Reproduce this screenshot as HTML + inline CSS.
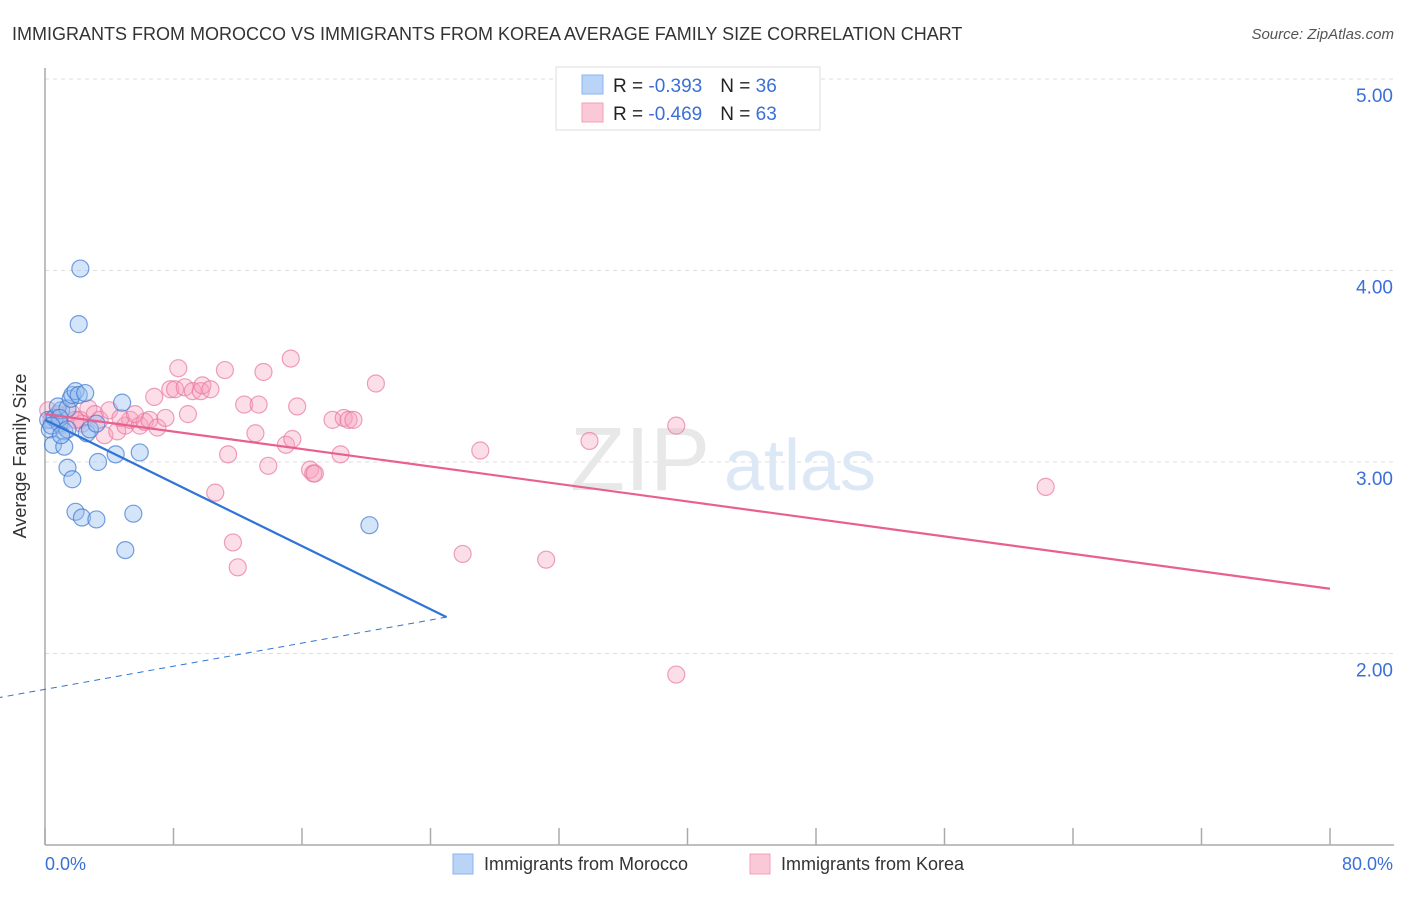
<!DOCTYPE html>
<html><head><meta charset="utf-8">
<style>
body{margin:0;background:#fff;font-family:"Liberation Sans",sans-serif;}
svg text{font-family:"Liberation Sans",sans-serif;}
</style></head>
<body>
<svg id="chart" width="1406" height="892" xmlns="http://www.w3.org/2000/svg">
<text x="12" y="40" font-size="18" fill="#333">IMMIGRANTS FROM MOROCCO VS IMMIGRANTS FROM KOREA AVERAGE FAMILY SIZE CORRELATION CHART</text>
<text x="1394" y="39" font-size="15" fill="#555" font-style="italic" text-anchor="end">Source: ZipAtlas.com</text>
<g id="grid"></g>
<text x="640" y="490" font-size="90" fill="#e8e8e8" font-family="Liberation Serif" text-anchor="middle">ZIP</text>
<text x="800" y="490" font-size="72" fill="#dce8f5" text-anchor="middle">atlas</text>
<line x1="45" y1="68" x2="45" y2="845" stroke="#aaa" stroke-width="1.5"/>
<line x1="45" y1="845" x2="1394" y2="845" stroke="#aaa" stroke-width="1.5"/>
<g id="ticks"></g>
<g id="points"></g>
<g id="trends"></g>
<text x="26" y="456" font-size="18" fill="#333" text-anchor="middle" transform="rotate(-90 26 456)">Average Family Size</text>
<text x="45" y="870" font-size="18" fill="#3a6fd8">0.0%</text>
<text x="1393" y="870" font-size="18" fill="#3a6fd8" text-anchor="end">80.0%</text>
<g>
<rect x="556" y="67" width="264" height="63" fill="#fff" stroke="#ddd"/>
<rect x="582" y="75" width="21" height="19" fill="#b9d4f7" stroke="#8ab4ee"/>
<rect x="582" y="103" width="21" height="19" fill="#fbc8d8" stroke="#f2a0ba"/>
<text x="613" y="92" font-size="19" fill="#222">R = <tspan fill="#3a6fd8">-0.393</tspan><tspan dx="18">N = </tspan><tspan fill="#3a6fd8">36</tspan></text>
<text x="613" y="120" font-size="19" fill="#222">R = <tspan fill="#3a6fd8">-0.469</tspan><tspan dx="18">N = </tspan><tspan fill="#3a6fd8">63</tspan></text>
</g>
<g>
<rect x="453" y="854" width="20" height="20" fill="#b9d4f7" stroke="#8ab4ee"/>
<text x="484" y="870" font-size="18" fill="#333">Immigrants from Morocco</text>
<rect x="750" y="854" width="20" height="20" fill="#fbc8d8" stroke="#f2a0ba"/>
<text x="781" y="870" font-size="18" fill="#333">Immigrants from Korea</text>
</g>
</svg>
<script>
const yTicks=[2,3,4,5];
const yTickLabels=["2.00","3.00","4.00","5.00"];
const xTicks=[0,8,16,24,32,40,48,56,64,72,80];
const moroccoX=[0.2,0.3,0.6,0.5,0.9,1.0,1.2,0.8,1.4,1.6,1.7,1.9,2.1,2.5,1.4,1.7,1.9,2.3,3.2,5.0,5.5,3.3,4.4,5.9,4.8,2.6,2.8,3.2,2.2,2.1,1.2,0.9,0.4,20.2,1.4,1.0];
const moroccoY=[3.22,3.17,3.23,3.09,3.20,3.27,3.16,3.29,3.28,3.33,3.35,3.37,3.35,3.36,2.97,2.91,2.74,2.71,2.70,2.54,2.73,3.00,3.04,3.05,3.31,3.15,3.17,3.20,4.01,3.72,3.08,3.23,3.19,2.67,3.17,3.14];
const koreaX=[0.2,0.4,0.8,1.0,1.6,2.2,2.7,3.1,3.4,3.7,4.0,4.5,5.0,5.3,5.9,6.2,6.5,6.8,7.0,7.5,7.8,8.1,8.3,8.7,8.9,9.2,9.7,9.8,10.3,10.6,11.2,11.4,11.7,12.0,12.4,13.1,13.3,13.6,13.9,15.0,15.3,15.4,15.7,16.5,16.7,16.8,17.9,18.4,18.6,18.9,19.2,20.6,26.0,27.1,31.2,33.9,39.3,39.3,62.3,2.3,4.7,5.6,1.9];
const koreaY=[3.27,3.22,3.25,3.19,3.26,3.22,3.28,3.25,3.22,3.14,3.27,3.16,3.19,3.22,3.19,3.21,3.22,3.34,3.18,3.23,3.38,3.38,3.49,3.39,3.25,3.37,3.37,3.40,3.38,2.84,3.48,3.04,2.58,2.45,3.30,3.15,3.30,3.47,2.98,3.09,3.54,3.12,3.29,2.96,2.94,2.94,3.22,3.04,3.23,3.22,3.22,3.41,2.52,3.06,2.49,3.11,3.19,1.89,2.87,3.20,3.23,3.25,3.22];
const moroccoTrend=[3.22,-0.0412]; // intercept, slope per %
const koreaTrend=[3.25,-0.0114];
const sx=v=>45+v/80*1285;
const sy=v=>845-(v-1)*191.5;
const NS="http://www.w3.org/2000/svg";
function mk(tag,attrs,parent){const e=document.createElementNS(NS,tag);for(const k in attrs)e.setAttribute(k,attrs[k]);parent.appendChild(e);return e;}
const grid=document.getElementById('grid');
yTicks.forEach((t,i)=>{
 const l=mk('line',{x1:45,x2:1394,y1:sy(t),y2:sy(t),stroke:'#ddd','stroke-dasharray':'4,4'},grid);
 
 
 const tx=mk('text',{x:1393,y:sy(t)+23,'font-size':19,fill:'#3a6fd8','text-anchor':'end'},grid);
 tx.textContent=yTickLabels[i];
 
 
});
const ticks=document.getElementById('ticks');
xTicks.forEach(t=>{
 const l=mk('line',{x1:sx(t),x2:sx(t),y1:828,y2:845,stroke:'#aaa','stroke-width':1.5},ticks);
 
 
});
const pts=document.getElementById('points');
koreaX.forEach((x,i)=>{
 const c=mk('circle',{cx:sx(x),cy:sy(koreaY[i]),r:8.5,fill:'rgba(246,160,190,0.35)',stroke:'rgba(232,120,160,0.7)','stroke-width':1.2},pts);
 
 
});
moroccoX.forEach((x,i)=>{
 const c=mk('circle',{cx:sx(x),cy:sy(moroccoY[i]),r:8.5,fill:'rgba(150,190,240,0.4)',stroke:'rgba(60,120,210,0.7)','stroke-width':1.2},pts);
 
 
});
const tr=document.getElementById('trends');
const f=(t,x)=>t[0]+t[1]*x;
let l=mk('line',{x1:sx(0),y1:sy(f(koreaTrend,0)),x2:sx(80),y2:sy(f(koreaTrend,80)),stroke:'#e8608f','stroke-width':2.2},tr);


l=mk('line',{x1:sx(0),y1:sy(f(moroccoTrend,0)),x2:sx(25),y2:sy(f(moroccoTrend,25)),stroke:'#2f74d6','stroke-width':2.2},tr);


const xEnd=(1-moroccoTrend[0])/moroccoTrend[1]*-1;
l=mk('line',{x1:sx(25),y1:sy(f(moroccoTrend,25)),x2:sx(-xEnd*-1<0?xEnd:xEnd),y2:sy(1),stroke:'#2f74d6','stroke-width':1,'stroke-dasharray':'6,5'},tr);


</script>
</body></html>
